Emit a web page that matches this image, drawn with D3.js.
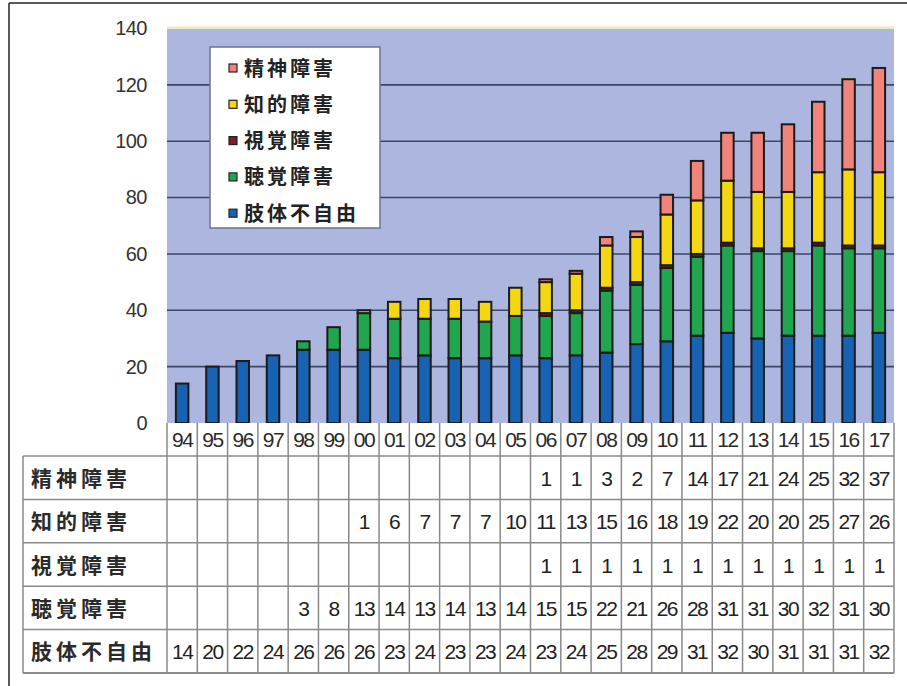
<!DOCTYPE html>
<html><head><meta charset="utf-8">
<script src="https://cdn.jsdelivr.net/npm/d3@7"></script>
<style>body{margin:0;background:#fff}svg{display:block}</style>
</head><body>
<script>
const years = ["94","95","96","97","98","99","00","01","02","03","04","05","06","07","08","09","10","11","12","13","14","15","16","17"];
const seriesNames = ["肢体不自由","聴覚障害","視覚障害","知的障害","精神障害"];
const limb    = [14,20,22,24,26,26,26,23,24,23,23,24,23,24,25,28,29,31,32,30,31,31,31,32];
const hearing = [null,null,null,null,3,8,13,14,13,14,13,14,15,15,22,21,26,28,31,31,30,32,31,30];
const visual  = [null,null,null,null,null,null,null,null,null,null,null,null,1,1,1,1,1,1,1,1,1,1,1,1];
const intel   = [null,null,null,null,null,null,1,6,7,7,7,10,11,13,15,16,18,19,22,20,20,25,27,26];
const mental  = [null,null,null,null,null,null,null,null,null,null,null,null,1,1,3,2,7,14,17,21,24,25,32,37];
const yTicks = [0,20,40,60,80,100,120,140];
const colors = ["#1762b2","#20a64f","#7a1d2c","#f4d612","#f0837a"];
const seriesVals = [limb, hearing, visual, intel, mental];
const tableOrder = [4,3,2,1,0];

(function(){
const W=907,H=686;
const svg=d3.select("body").append("svg").attr("width",W).attr("height",H);
svg.append("rect").attr("width",W).attr("height",H).attr("fill","#fff");

const pL=167,pR=894,pT=28.5,pB=423;
const x=d3.scaleBand().domain(years).range([pL,pR]).padding(0);
const y=d3.scaleLinear().domain([0,140]).range([pB,pT]);
const barW=12.5;

// outer frame
svg.append("line").attr("x1",9).attr("x2",W).attr("y1",3).attr("y2",3).attr("stroke","#222").attr("stroke-width",1.5);
svg.append("line").attr("x1",9).attr("x2",9).attr("y1",3).attr("y2",H).attr("stroke","#222").attr("stroke-width",1.5);

// plot background
svg.append("rect").attr("x",pL).attr("y",pT).attr("width",pR-pL).attr("height",pB-pT).attr("fill","#adb6de");
svg.append("line").attr("x1",pL).attr("x2",pR).attr("y1",pT-1).attr("y2",pT-1).attr("stroke","#f1ecc4").attr("stroke-width",2.5);

// gridlines
svg.append("g").selectAll("line").data(yTicks.filter(d=>d>0&&d<140)).join("line")
  .attr("x1",pL).attr("x2",pR).attr("y1",d=>y(d)).attr("y2",d=>y(d))
  .attr("stroke","#3e4668").attr("stroke-width",1.6);

// y axis labels
const yAxis=d3.axisLeft(y).tickValues(yTicks).tickSize(0).tickPadding(20);
const ga=svg.append("g").attr("transform",`translate(${pL},0)`).call(yAxis);
ga.select(".domain").remove();
ga.selectAll("text").attr("font-family","Liberation Sans, Arial, sans-serif").attr("font-size",20).attr("fill","#333").attr("letter-spacing","-0.5px");

// stacked bars
const rows=years.map((yr,i)=>{const o={year:yr};seriesNames.forEach((n,k)=>o[n]=seriesVals[k][i]||0);return o;});
const stack=d3.stack().keys(seriesNames)(rows);
const gBars=svg.append("g");
stack.forEach((layer,k)=>{
  gBars.append("g").selectAll("rect").data(layer.filter(d=>d[1]-d[0]>0)).join("rect")
    .attr("x",d=>x(d.data.year)+x.bandwidth()/2-barW/2)
    .attr("width",barW)
    .attr("y",d=>y(d[1]))
    .attr("height",d=>y(d[0])-y(d[1]))
    .attr("fill",colors[k]).attr("stroke","#1b1b1b").attr("stroke-width",2);
});

// legend
const lg=svg.append("g");
lg.append("rect").attr("x",210).attr("y",47).attr("width",170).attr("height",181).attr("fill","#fff").attr("stroke","#6c7396").attr("stroke-width",1.5);
const legendOrder=[4,3,2,1,0];
legendOrder.forEach((k,i)=>{
  const cy=68+i*36.3;
  lg.append("rect").attr("x",229).attr("y",cy-4).attr("width",8).attr("height",8).attr("fill",colors[k]).attr("stroke","#222").attr("stroke-width",1.2);
  lg.append("text").attr("x",244).attr("y",cy+7.5).text(seriesNames[k])
    .attr("font-family","Noto Sans CJK JP, sans-serif").attr("font-weight",700).attr("font-size",20).attr("letter-spacing","3px").attr("fill","#222");
});

// data table
const tTop=456, rowH=43.4, tLeft=23;
const tb=svg.append("g");
tb.append("rect").attr("x",pL).attr("y",pB).attr("width",pR-pL).attr("height",tTop-pB).attr("fill","#fff");
tb.selectAll("text.cat").data(years).join("text").attr("class","cat")
  .attr("x",d=>x(d)+x.bandwidth()/2).attr("y",447).attr("text-anchor","middle").text(d=>d)
  .attr("font-family","Liberation Sans, Arial, sans-serif").attr("font-size",21).attr("letter-spacing","-1.5px").attr("fill","#2a2a2a");
const lineC="#8a8a8a";
for(let r=0;r<=5;r++){
  tb.append("line").attr("x1",tLeft).attr("x2",pR).attr("y1",tTop+r*rowH).attr("y2",tTop+r*rowH).attr("stroke",lineC).attr("stroke-width",r===5?2:1.5);
}
tb.append("line").attr("x1",tLeft).attr("x2",tLeft).attr("y1",tTop).attr("y2",tTop+5*rowH).attr("stroke",lineC).attr("stroke-width",1.5);
years.forEach((yr)=>{
  tb.append("line").attr("x1",x(yr)).attr("x2",x(yr)).attr("y1",pB).attr("y2",tTop+5*rowH).attr("stroke",lineC).attr("stroke-width",1.5);
});
tb.append("line").attr("x1",pR).attr("x2",pR).attr("y1",pB).attr("y2",tTop+5*rowH).attr("stroke",lineC).attr("stroke-width",1.5);
tableOrder.forEach((k,r)=>{
  const cy=tTop+r*rowH+rowH/2;
  tb.append("text").attr("x",31).attr("y",cy+8).text(seriesNames[k])
    .attr("font-family","Noto Sans CJK JP, sans-serif").attr("font-weight",700).attr("font-size",21).attr("letter-spacing","4px").attr("fill","#2a2a2a");
  tb.append("g").selectAll("text").data(seriesVals[k].map((v,i)=>({v,yr:years[i]})).filter(d=>d.v!=null)).join("text")
    .attr("x",d=>x(d.yr)+x.bandwidth()/2).attr("y",cy+8).attr("text-anchor","middle").text(d=>d.v)
    .attr("font-family","Liberation Sans, Arial, sans-serif").attr("font-size",21).attr("letter-spacing","-1.5px").attr("fill","#222");
});
})();
</script>
</body></html>
